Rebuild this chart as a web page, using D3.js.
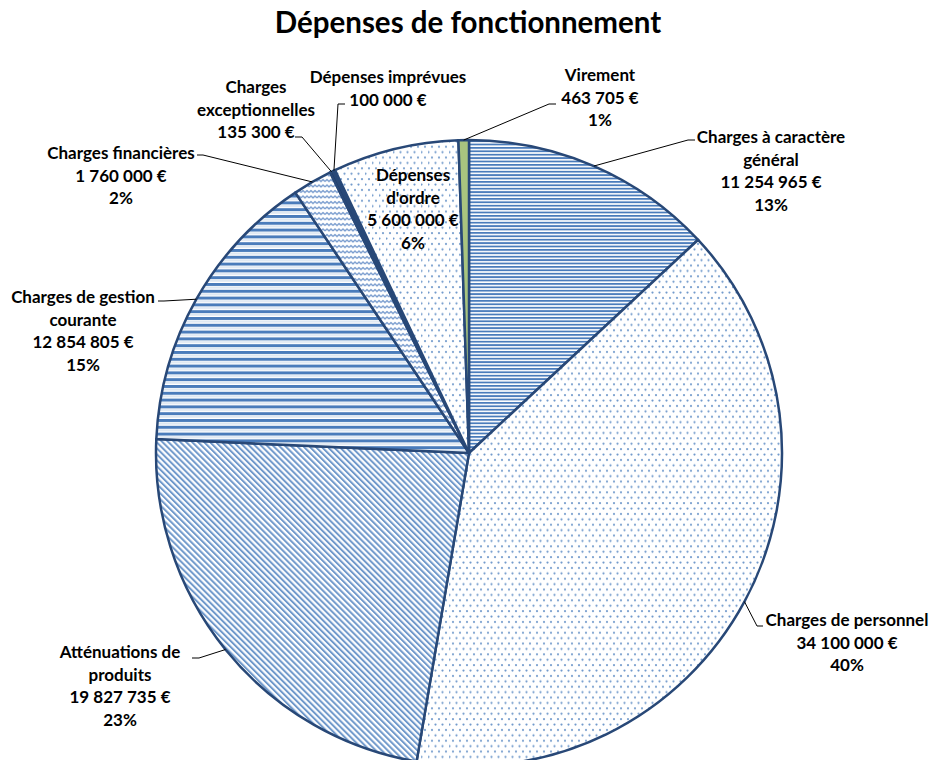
<!DOCTYPE html>
<html>
<head>
<meta charset="utf-8">
<script src="https://cdn.jsdelivr.net/npm/d3@7"></script>
<style>
  body { margin: 0; background: #fff; }
  svg text { font-family: Lato, "Open Sans", sans-serif; font-weight: bold; fill: #000; }
</style>
</head>
<body>
<div class="chart"></div>
<script>
// données
const categories = [
  "Charges à caractère général", "Charges de personnel", "Atténuations de produits",
  "Charges de gestion courante", "Charges financières", "Charges exceptionnelles",
  "Dépenses imprévues", "Dépenses d'ordre", "Virement"
];
const values = [11254965, 34100000, 19827735, 12854805, 1760000, 135300, 100000, 5600000, 463705];
const percentLabels = ["13%", "40%", "23%", "15%", "2%", "", "", "6%", "1%"];

const width = 931, height = 760;
const cx = 469, cy = 453, radius = 313;
const lineH = 22.5;

// mise en page des étiquettes : lignes du nom, centre du texte, coude du trait
const labelLayout = {
  "Charges à caractère général": {lines: ["Charges à caractère", "général"], x: 771, y: 137, bend: [688, 140], end: [695, 140]},
  "Charges de personnel": {lines: ["Charges de personnel"], x: 847, y: 620, bend: [757, 626], end: [763, 626]},
  "Atténuations de produits": {lines: ["Atténuations de", "produits"], x: 120, y: 652, bend: [199, 658], end: [192, 658]},
  "Charges de gestion courante": {lines: ["Charges de gestion", "courante"], x: 83, y: 297, bend: [164, 301], end: [158, 301]},
  "Charges financières": {lines: ["Charges financières"], x: 121, y: 153, bend: [203, 155], end: [197, 155]},
  "Charges exceptionnelles": {lines: ["Charges", "exceptionnelles"], x: 256, y: 87, bend: [302, 137], end: [295, 137]},
  "Dépenses imprévues": {lines: ["Dépenses imprévues"], x: 388, y: 77, bend: [338, 104], end: [345, 104]},
  "Dépenses d'ordre": {lines: ["Dépenses", "d'ordre"], x: 413, y: 175, inside: true},
  "Virement": {lines: ["Virement"], x: 600, y: 75, bend: [549, 104], end: [556, 104]}
};

const fills = ["url(#hNarrow)", "url(#dots)", "url(#diag)", "url(#hWide)", "url(#wave)",
               "#1F3864", "url(#dots)", "url(#dots)", "#A9C47F"];

const fr = d3.formatLocale({decimal: ",", thousands: " ", grouping: [3], currency: ["", " €"]});
const fmt = fr.format(",d");

const svg = d3.select('.chart').append('svg').attr('width', width).attr('height', height);

// motifs de remplissage
const defs = svg.append('defs');
const blue = '#4A7CBB';

let p = defs.append('pattern').attr('id', 'hNarrow').attr('patternUnits', 'userSpaceOnUse')
  .attr('width', 8).attr('height', 3.4);
p.append('rect').attr('width', 8).attr('height', 3.4).attr('fill', '#fff');
p.append('rect').attr('y', 0).attr('width', 8).attr('height', 1.8).attr('fill', blue);

p = defs.append('pattern').attr('id', 'hWide').attr('patternUnits', 'userSpaceOnUse')
  .attr('width', 8).attr('height', 6.8);
p.append('rect').attr('width', 8).attr('height', 6.8).attr('fill', '#fff');
p.append('rect').attr('y', 0).attr('width', 8).attr('height', 3).attr('fill', blue);
p.append('rect').attr('y', 4.4).attr('width', 8).attr('height', 0.8).attr('fill', '#B8CCE4');

p = defs.append('pattern').attr('id', 'diag').attr('patternUnits', 'userSpaceOnUse')
  .attr('width', 4.2).attr('height', 8).attr('patternTransform', 'rotate(-45)');
p.append('rect').attr('width', 4.2).attr('height', 8).attr('fill', '#fff');
p.append('rect').attr('width', 2).attr('height', 8).attr('fill', '#7099CB');

p = defs.append('pattern').attr('id', 'dots').attr('patternUnits', 'userSpaceOnUse')
  .attr('width', 7).attr('height', 10.8);
p.append('rect').attr('width', 7).attr('height', 10.8).attr('fill', '#fff');
p.append('circle').attr('cx', 1.5).attr('cy', 1.5).attr('r', 1.1).attr('fill', '#7099CB');
p.append('circle').attr('cx', 5).attr('cy', 6.9).attr('r', 1.1).attr('fill', '#7099CB');

p = defs.append('pattern').attr('id', 'wave').attr('patternUnits', 'userSpaceOnUse')
  .attr('width', 8).attr('height', 5.5);
p.append('rect').attr('width', 8).attr('height', 5.5).attr('fill', '#fff');
p.append('path').attr('d', 'M0,3.5 L2,1.5 L4,3.5 L6,1.5 L8,3.5')
  .attr('fill', 'none').attr('stroke', '#6F95CB').attr('stroke-width', 1.3);

// titre
svg.append('text').attr('x', 468).attr('y', 33).attr('text-anchor', 'middle')
  .attr('font-size', 29.5).text('Dépenses de fonctionnement');

// camembert
const pie = d3.pie().sort(null).value(d => d.value);
const data = categories.map((c, i) => ({name: c, value: values[i], pct: percentLabels[i], fill: fills[i]}));
const arcs = pie(data);
const arc = d3.arc().innerRadius(0).outerRadius(radius);

const g = svg.append('g').attr('transform', `translate(${cx},${cy})`);
g.selectAll('path.slice').data(arcs).enter().append('path')
  .attr('class', 'slice')
  .attr('d', arc)
  .attr('fill', d => d.data.fill)
  .attr('stroke', '#284877')
  .attr('stroke-width', 2.5)
  .attr('stroke-linejoin', 'round');

// traits de rappel
const edgePoint = d => {
  const a = (d.startAngle + d.endAngle) / 2;
  return [cx + radius * Math.sin(a), cy - radius * Math.cos(a)];
};
svg.selectAll('polyline.leader').data(arcs.filter(d => !labelLayout[d.data.name].inside))
  .enter().append('polyline')
  .attr('class', 'leader')
  .attr('points', d => {
    const L = labelLayout[d.data.name];
    return [edgePoint(d), L.bend, L.end].map(pt => pt.join(',')).join(' ');
  })
  .attr('fill', 'none').attr('stroke', '#000').attr('stroke-width', 1);

// étiquettes
arcs.forEach(d => {
  const L = labelLayout[d.data.name];
  const lines = L.lines.concat([fmt(d.data.value) + ' €']);
  if (d.data.pct) lines.push(d.data.pct);
  const t = svg.append('text').attr('text-anchor', 'middle').attr('font-size', 17);
  lines.forEach((s, i) => {
    t.append('tspan').attr('x', L.x).attr('y', L.y + i * lineH + 6).text(s);
  });
});
</script>
</body>
</html>
